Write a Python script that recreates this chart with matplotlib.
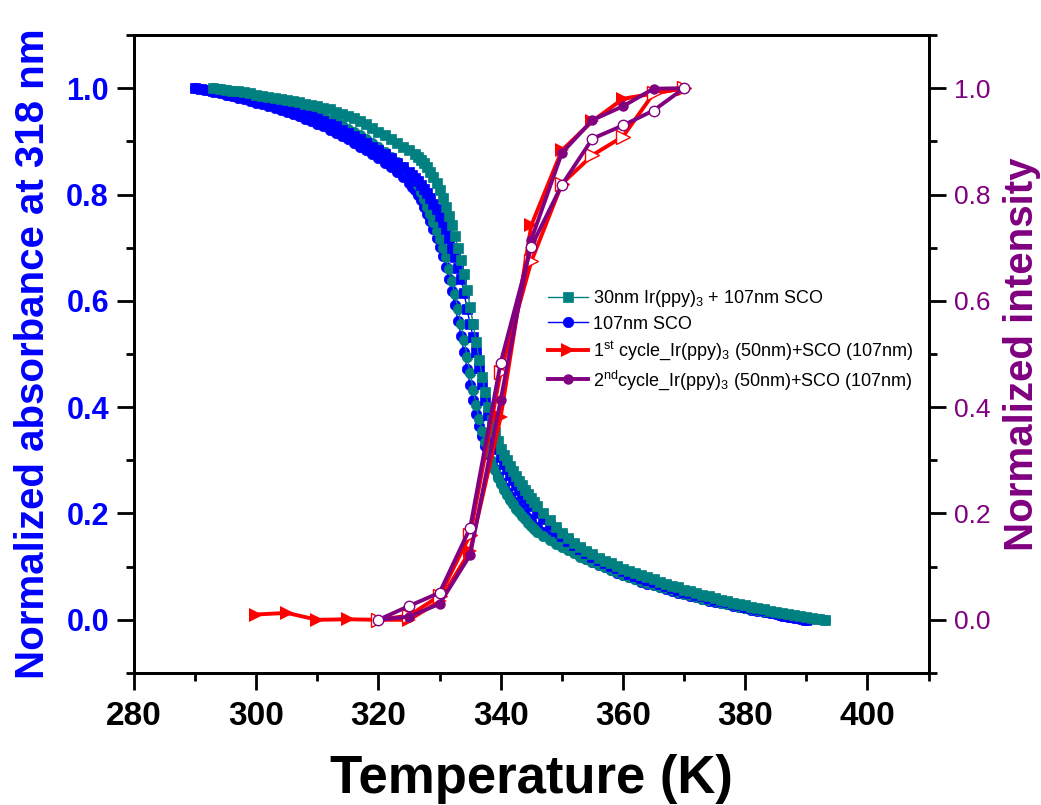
import numpy as np
import matplotlib
matplotlib.use('Agg')
import matplotlib.pyplot as plt
from matplotlib.ticker import MultipleLocator

plt.rcParams['font.family'] = ['Liberation Sans', 'DejaVu Sans']
plt.rcParams['mathtext.fontset'] = 'custom'
plt.rcParams['mathtext.rm'] = 'Liberation Sans'
plt.rcParams['mathtext.it'] = 'Liberation Sans:italic'
plt.rcParams['mathtext.bf'] = 'Liberation Sans:bold'

# temperature grids (1 K steps, 0.5 K steps through the transition)
tempTeal = np.concatenate([np.arange(293, 327), np.arange(326.5, 346, 0.5), np.arange(346, 394)])
tempBlue = np.concatenate([np.arange(290, 326), np.arange(325.5, 345, 0.5), np.arange(345, 391)])

# 30nm Ir(ppy)3 + 107nm SCO, squares
tealSquares = [1.000, 0.998, 0.997, 0.995, 0.994, 0.992, 0.990, 0.988, 0.986, 0.984,
               0.982, 0.980, 0.978, 0.976, 0.974, 0.971, 0.969, 0.966, 0.963, 0.960,
               0.956, 0.952, 0.948, 0.943, 0.938, 0.932, 0.925, 0.918, 0.911, 0.904,
               0.897, 0.890, 0.883, 0.876,
               0.871, 0.865, 0.859, 0.851, 0.842, 0.832, 0.821, 0.808, 0.793, 0.777,
               0.759, 0.742, 0.722, 0.700, 0.677, 0.650, 0.620, 0.589, 0.556, 0.522,
               0.489, 0.456, 0.428, 0.400, 0.375, 0.354, 0.337, 0.322, 0.310, 0.300,
               0.290, 0.280, 0.271, 0.262, 0.253, 0.245, 0.237, 0.229, 0.221,
               0.214, 0.200, 0.187, 0.175, 0.164, 0.154, 0.145, 0.137, 0.130, 0.123,
               0.117, 0.111, 0.106, 0.101, 0.096, 0.092, 0.088, 0.084, 0.080, 0.076,
               0.072, 0.068, 0.064, 0.061, 0.057, 0.054, 0.050, 0.047, 0.044, 0.041,
               0.038, 0.035, 0.032, 0.030, 0.027, 0.025, 0.022, 0.020, 0.017, 0.015,
               0.013, 0.011, 0.009, 0.007, 0.005, 0.003, 0.002, 0.000]

# 30nm Ir(ppy)3 + 107nm SCO, circles
tealCircles = [1.000, 0.998, 0.996, 0.994, 0.992, 0.990, 0.987, 0.985, 0.982, 0.979,
               0.976, 0.973, 0.970, 0.967, 0.963, 0.959, 0.955, 0.951, 0.946, 0.941,
               0.936, 0.930, 0.924, 0.918, 0.911, 0.904, 0.897, 0.889, 0.880, 0.871,
               0.862, 0.852, 0.841, 0.829,
               0.817, 0.804, 0.791, 0.777, 0.763, 0.748, 0.732, 0.716, 0.700, 0.683,
               0.660, 0.637, 0.612, 0.585, 0.556, 0.527, 0.495, 0.464, 0.433, 0.404,
               0.377, 0.355, 0.335, 0.316, 0.298, 0.282, 0.267, 0.255, 0.244, 0.234,
               0.225, 0.217, 0.209, 0.202, 0.195, 0.189, 0.183, 0.177, 0.171,
               0.166, 0.157, 0.150, 0.143, 0.137, 0.131, 0.125, 0.119, 0.114, 0.109,
               0.104, 0.099, 0.094, 0.090, 0.085, 0.081, 0.077, 0.073, 0.069, 0.066,
               0.062, 0.059, 0.056, 0.052, 0.049, 0.046, 0.043, 0.040, 0.038, 0.035,
               0.032, 0.030, 0.027, 0.025, 0.023, 0.021, 0.019, 0.017, 0.015, 0.013,
               0.011, 0.009, 0.007, 0.005, 0.004, 0.002, 0.001, 0.000]

# 107nm SCO, circles
blueCircles = [1.000, 0.998, 0.996, 0.993, 0.991, 0.988, 0.985, 0.982, 0.979, 0.976,
               0.973, 0.970, 0.966, 0.963, 0.959, 0.955, 0.951, 0.947, 0.942, 0.938,
               0.933, 0.928, 0.922, 0.916, 0.910, 0.904, 0.897, 0.890, 0.883, 0.876,
               0.868, 0.860, 0.851, 0.842, 0.832, 0.821,
               0.815, 0.808, 0.799, 0.789, 0.777, 0.764, 0.750, 0.735, 0.719, 0.702,
               0.685, 0.664, 0.642, 0.618, 0.592, 0.563, 0.533, 0.503, 0.471, 0.441,
               0.413, 0.387, 0.364, 0.345, 0.327, 0.311, 0.296, 0.283, 0.271, 0.260,
               0.250, 0.241, 0.232, 0.224, 0.217, 0.210, 0.203, 0.197, 0.191,
               0.185, 0.175, 0.166, 0.157, 0.149, 0.141, 0.134, 0.127, 0.121, 0.115,
               0.109, 0.104, 0.099, 0.094, 0.089, 0.085, 0.080, 0.076, 0.072, 0.068,
               0.065, 0.061, 0.058, 0.054, 0.051, 0.048, 0.045, 0.042, 0.039, 0.036,
               0.034, 0.031, 0.029, 0.026, 0.024, 0.022, 0.019, 0.017, 0.015, 0.013,
               0.011, 0.008, 0.006, 0.004, 0.002, 0.000]

# 107nm SCO, squares
blueSquares = [1.000, 0.999, 0.997, 0.995, 0.993, 0.991, 0.988, 0.986, 0.983, 0.981,
               0.978, 0.975, 0.972, 0.969, 0.966, 0.962, 0.959, 0.955, 0.951, 0.947,
               0.943, 0.938, 0.933, 0.928, 0.922, 0.916, 0.910, 0.904, 0.897, 0.890,
               0.883, 0.876, 0.868, 0.860, 0.851, 0.842,
               0.837, 0.831, 0.825, 0.818, 0.810, 0.802, 0.793, 0.783, 0.772, 0.760,
               0.748, 0.735, 0.718, 0.700, 0.682, 0.662, 0.641, 0.615, 0.584, 0.556,
               0.532, 0.503, 0.474, 0.443, 0.413, 0.385, 0.360, 0.339, 0.321, 0.306,
               0.294, 0.283, 0.273, 0.263, 0.254, 0.245, 0.237, 0.229, 0.221,
               0.214, 0.201, 0.189, 0.178, 0.168, 0.158, 0.149, 0.141, 0.133, 0.126,
               0.119, 0.113, 0.107, 0.102, 0.097, 0.092, 0.087, 0.083, 0.079, 0.075,
               0.071, 0.067, 0.063, 0.060, 0.056, 0.053, 0.050, 0.047, 0.044, 0.041,
               0.038, 0.035, 0.033, 0.030, 0.028, 0.025, 0.023, 0.020, 0.018, 0.015,
               0.013, 0.010, 0.008, 0.005, 0.003, 0.000]

# normalized intensity, Ir(ppy)3 (50nm)+SCO (107nm)
temp1stHeat = [300, 305, 310, 315, 320, 325, 330, 335, 340, 345, 350, 355, 360, 365, 370]
int1stHeat = [0.010, 0.013, 0.000, 0.001, 0.000, 0.000, 0.035, 0.130, 0.382, 0.742,
              0.883, 0.938, 0.980, 0.990, 1.000]
tempCycle = [320, 325, 330, 335, 340, 345, 350, 355, 360, 365, 370]
int1stCool = [0.000, 0.008, 0.045, 0.160, 0.467, 0.674, 0.820, 0.874, 0.909, 0.990, 1.000]
int2ndHeat = [0.000, 0.006, 0.030, 0.122, 0.414, 0.715, 0.878, 0.940, 0.966, 0.999, 1.000]
int2ndCool = [0.000, 0.026, 0.051, 0.173, 0.484, 0.702, 0.818, 0.905, 0.930, 0.958, 1.000]

teal = '#008080'
blue = '#0000FF'
red = '#FF0000'
purple = '#800080'

fig = plt.figure(figsize=(10.41, 8.05), dpi=100)
ax = fig.add_axes([0.1287, 0.164, 0.7633, 0.7925])

ax.plot(tempBlue, blueCircles, '-o', color=blue, lw=1, ms=7.5, mew=0.5, label='107nm SCO')
ax.plot(tempTeal, tealCircles, '-o', color=teal, lw=1, ms=7.5, mew=0.5)
ax.plot(tempBlue, blueSquares, '-s', color=blue, lw=1, ms=6.5, mew=0.5)
ax.plot(tempTeal, tealSquares, '-s', color=teal, lw=1, ms=6.5, mew=0.5,
        label='30nm Ir(ppy)$_\\mathrm{3}$ + 107nm SCO')

ax.set_xlim(280, 410)
ax.set_ylim(-0.1, 1.1)
ax.xaxis.set_major_locator(MultipleLocator(20))
ax.xaxis.set_minor_locator(MultipleLocator(10))
ax.yaxis.set_minor_locator(MultipleLocator(0.1))
ax.set_yticks([0.0, 0.2, 0.4, 0.6, 0.8, 1.0])
ax.tick_params(axis='both', which='major', direction='out', length=12, width=2)
ax.tick_params(axis='both', which='minor', direction='out', length=6, width=2)
ax.tick_params(axis='x', labelsize=24, pad=8)
ax.tick_params(axis='y', labelsize=22, labelcolor=blue, pad=6)
for lab in ax.get_xticklabels() + ax.get_yticklabels():
    lab.set_fontweight('bold')
for sp in ax.spines.values():
    sp.set_linewidth(2)

ax.set_xlabel('Temperature (K)', fontsize=38, fontweight='bold', labelpad=16)
ax.set_ylabel('Normalized absorbance at 318 nm', fontsize=29, fontweight='bold',
              color=blue, labelpad=10)

ax2 = ax.twinx()
ax2.plot(temp1stHeat, int1stHeat, '->', color=red, lw=2.8, ms=10, mew=0,
         label='1$^\\mathrm{st}$ cycle_Ir(ppy)$_\\mathrm{3}$ (50nm)+SCO (107nm)')
ax2.plot(tempCycle, int1stCool, '->', color=red, lw=2.8, ms=10, mfc='white', mec=red, mew=1)
ax2.plot(tempCycle, int2ndHeat, '-o', color=purple, lw=2.8, ms=7.5, mew=0,
         label='2$^\\mathrm{nd}$cycle_Ir(ppy)$_\\mathrm{3}$ (50nm)+SCO (107nm)')
ax2.plot(tempCycle, int2ndCool, '-o', color=purple, lw=2.8, ms=7.5, mfc='white',
         mec=purple, mew=1)
ax2.set_ylim(-0.1, 1.1)
ax2.set_yticks([0.0, 0.2, 0.4, 0.6, 0.8, 1.0])
ax2.yaxis.set_minor_locator(MultipleLocator(0.1))
ax2.tick_params(axis='y', which='major', direction='out', length=12, width=2,
                labelsize=19, labelcolor=purple, pad=6)
ax2.tick_params(axis='y', which='minor', direction='out', length=6, width=2)
ax2.set_ylabel('Normalized intensity', fontsize=29, fontweight='bold', color=purple,
               labelpad=9)
for sp in ax2.spines.values():
    sp.set_linewidth(2)

h1, l1 = ax.get_legend_handles_labels()
h2, l2 = ax2.get_legend_handles_labels()
handles = [h1[1], h1[0], h2[0], h2[1]]
labels = [l1[1], l1[0], l2[0], l2[1]]
ax2.legend(handles, labels, loc='upper left', bbox_to_anchor=(0.512, 0.614), frameon=False,
           fontsize=13, handlelength=2.2, handletextpad=0.3, labelspacing=0.35,
           borderaxespad=0)

plt.savefig('out.png', dpi=100)
